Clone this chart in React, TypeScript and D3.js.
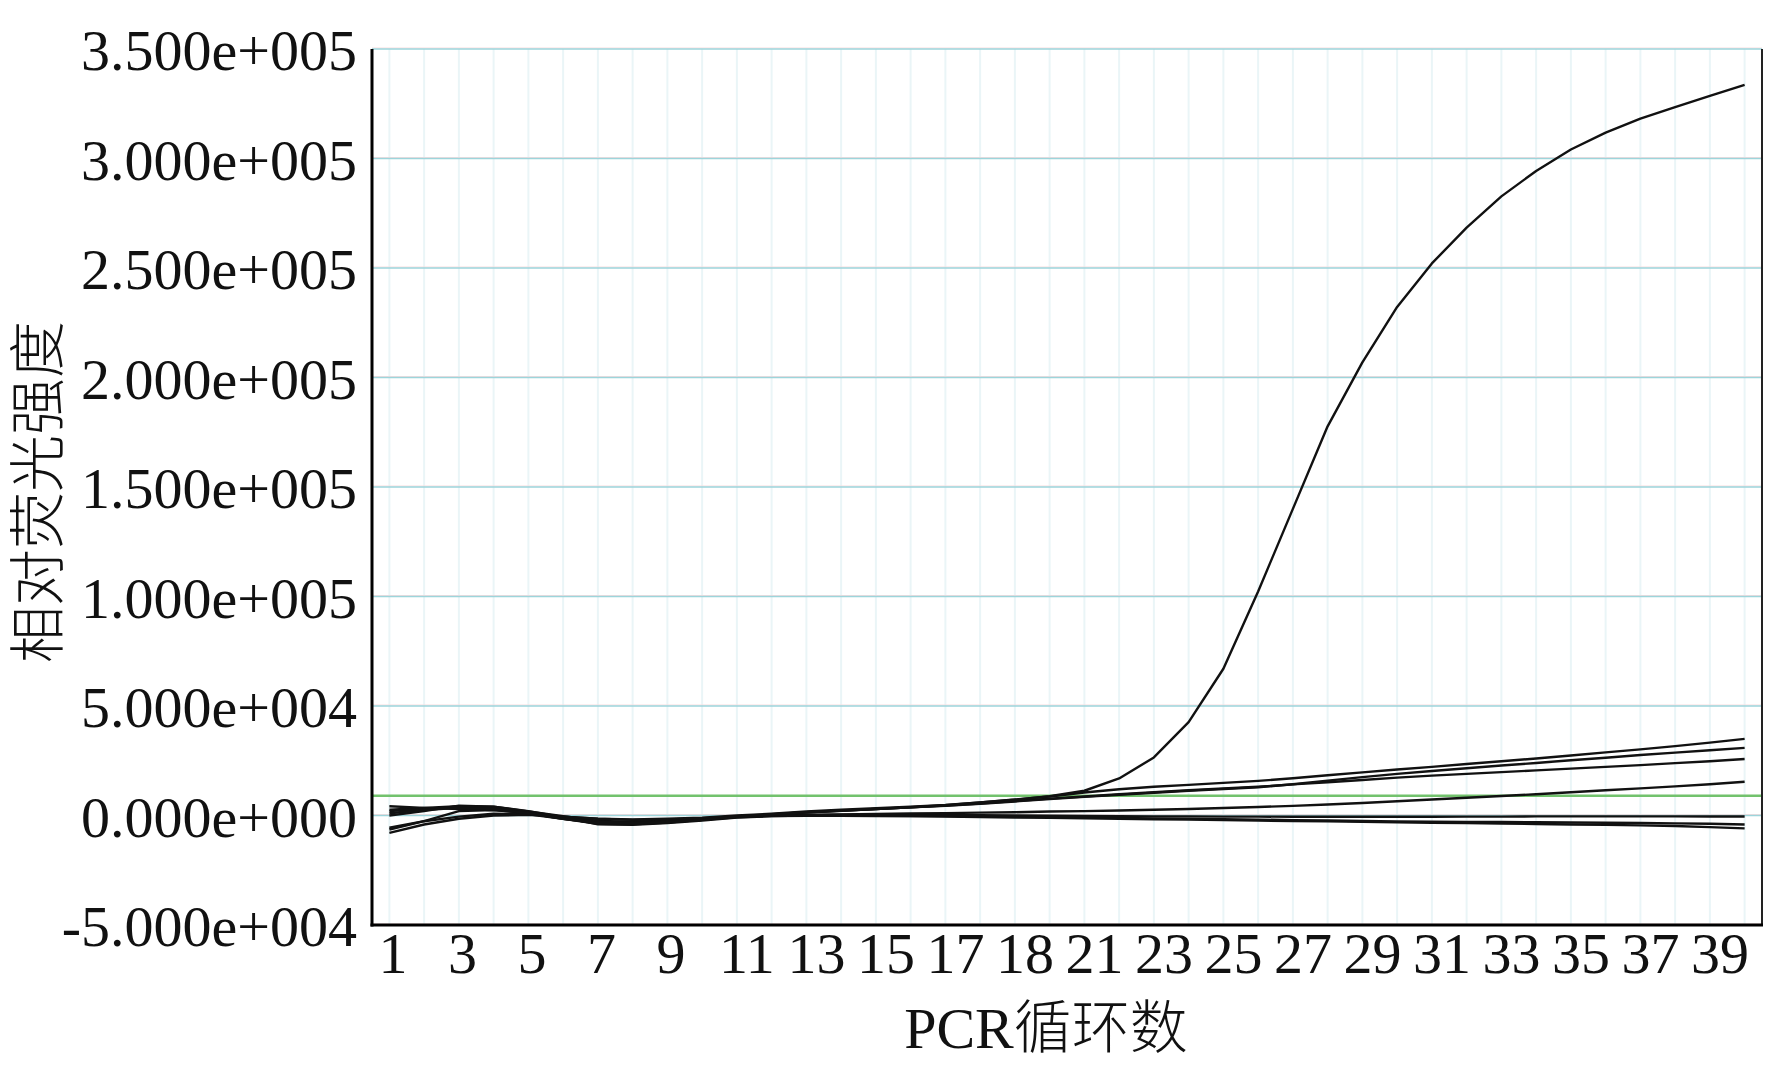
import React from "react";
import * as d3 from "d3";

// PCR cycle numbers
const cycles = [1, 2, 3, 4, 5, 6, 7, 8, 9, 10, 11, 12, 13, 14, 15, 16, 17, 18, 19, 20,
  21, 22, 23, 24, 25, 26, 27, 28, 29, 30, 31, 32, 33, 34, 35, 36, 37, 38, 39, 40];

// Relative fluorescence per well
const wellA = [1000, 2500, 3500, 3000, 1000, -1500, -3500, -3500, -3000, -2000, -500, 500, 1500, 2200, 3000, 3800, 4700, 6000, 7200, 8800,
  11300, 16900, 26500, 42600, 67000, 102300, 140000, 177700, 206900, 232200, 252100, 268400, 282700, 294300, 304100, 311800, 318200, 323500, 328600, 333600];
const wellB = [4200, 3500, 3000, 2500, 1200, -500, -1500, -1800, -1500, -1000, 0, 800, 1800, 2600, 3300, 4000, 4800, 6000, 7300, 8700,
  10500, 12000, 13100, 14000, 14900, 15800, 17000, 18400, 19700, 21000, 22200, 23500, 24800, 26000, 27400, 28800, 30200, 31700, 33300, 35000];
const wellC = [2000, 3000, 4000, 3500, 1500, -1000, -3000, -3200, -2500, -1500, -300, 600, 1500, 2300, 3000, 3700, 4400, 5300, 6400, 7500,
  8500, 9500, 10400, 11300, 12100, 12900, 14300, 15900, 17500, 19000, 20300, 21600, 22800, 24000, 25200, 26400, 27600, 28700, 29800, 30900];
const wellD = [-5600, -2600, -500, 800, 500, -1500, -3800, -4000, -3200, -2000, -500, 500, 1300, 2100, 2900, 3700, 4500, 5500, 6600, 7700,
  8700, 9700, 10600, 11500, 12300, 13100, 14200, 15200, 16200, 17300, 18200, 19000, 19800, 20600, 21400, 22200, 23000, 23900, 24800, 25800];
const wellE = [-7900, -4100, -1500, 0, 300, -500, -1500, -2000, -1800, -1200, -400, 0, 300, 500, 700, 900, 1100, 1300, 1500, 1800,
  2000, 2300, 2600, 3000, 3400, 3900, 4400, 5000, 5700, 6500, 7300, 8100, 8900, 9700, 10600, 11500, 12400, 13300, 14300, 15400];
const wellF = [0, 2000, 4500, 4000, 1800, -300, -2500, -2800, -2400, -1600, -600, 0, 300, 400, 400, 300, 200, 100, 0, -100,
  -200, -300, -400, -400, -500, -500, -600, -600, -600, -600, -600, -500, -500, -400, -400, -400, -400, -400, -450, -450];
const wellG = [-6400, -2600, 2000, 2500, 1000, -1500, -3500, -3800, -3000, -2000, -800, -200, 0, 0, -100, -200, -300, -400, -500, -700,
  -900, -1100, -1300, -1500, -1700, -1900, -2100, -2300, -2500, -2700, -2800, -2900, -3000, -3100, -3200, -3300, -3400, -3600, -3800, -4100];
const wellH = [2700, 3500, 4200, 4000, 2000, -800, -4000, -4200, -3500, -2300, -900, -300, -100, -100, -200, -300, -500, -700, -900, -1100,
  -1300, -1500, -1700, -1900, -2100, -2300, -2500, -2700, -2900, -3100, -3300, -3500, -3700, -3900, -4100, -4300, -4500, -4800, -5300, -5900];

const threshold = 9000;

const yTicks = [-50000, 0, 50000, 100000, 150000, 200000, 250000, 300000, 350000];
const yTickLabels = ["-5.000e+004", "0.000e+000", "5.000e+004", "1.000e+005", "1.500e+005",
  "2.000e+005", "2.500e+005", "3.000e+005", "3.500e+005"];
const xTickCycles = [1, 3, 5, 7, 9, 11, 13, 15, 17, 19, 21, 23, 25, 27, 29, 31, 33, 35, 37, 39];
const xTickLabels = ["1", "3", "5", "7", "9", "11", "13", "15", "17", "18", "21", "23", "25", "27", "29", "31", "33", "35", "37", "39"];

const xTitle = "PCR循环数";
const yTitle = "相对荧光强度";

export default function App() {
  const W = 1779, H = 1079;
  const left = 372, right = 1762, top = 49, bottom = 925;
  const x = d3.scaleLinear().domain([0.5, 40.5]).range([left, right]);
  const y = d3.scaleLinear().domain([-50000, 350000]).range([bottom, top]);
  const line = d3.line<number>().x((_, i) => x(cycles[i])).y((d) => y(d));
  const series = [wellH, wellG, wellF, wellE, wellD, wellC, wellB, wellA];
  const serif = "'Liberation Serif', 'Times New Roman', serif";
  const cjk = "'Noto Sans CJK SC', sans-serif";

  return (
    <svg width={W} height={H} style={{ position: "absolute", left: 0, top: 0, background: "#fff" }}>
      <rect x={0} y={0} width={W} height={H} fill="#fff" />
      {/* vertical grid */}
      {cycles.map((c) => (
        <line key={"vg" + c} x1={x(c)} x2={x(c)} y1={top} y2={bottom} stroke="#eaf5f7" strokeWidth={2} />
      ))}
      {/* horizontal grid */}
      {yTicks.map((t) => (
        <g key={"hg" + t}>
          <line x1={left} x2={right} y1={y(t) - 1} y2={y(t) - 1} stroke="#f8dcdf" strokeWidth={1} />
          <line x1={left} x2={right} y1={y(t)} y2={y(t)} stroke="#9dd5db" strokeWidth={1.4} />
        </g>
      ))}
      {/* threshold */}
      <line x1={left} x2={right} y1={y(threshold)} y2={y(threshold)} stroke="#72c26d" strokeWidth={2.6} />
      {/* curves */}
      {series.map((s, i) => (
        <path key={"s" + i} d={line(s) || ""} fill="none" stroke="#111" strokeWidth={2.4} strokeLinejoin="round" />
      ))}
      {/* frame */}
      <line x1={right} x2={right} y1={top} y2={bottom + 1} stroke="#222" strokeWidth={2} />
      <line x1={left} x2={left} y1={top} y2={bottom + 1.5} stroke="#000" strokeWidth={3} />
      <line x1={left - 1.5} x2={right + 1} y1={bottom} y2={bottom} stroke="#000" strokeWidth={3} />
      {/* y tick labels */}
      {yTicks.map((t, i) => (
        <text key={"yl" + t} x={357} y={y(t) + 21} textAnchor="end" fontFamily={serif} fontSize={58} fill="#111">
          {yTickLabels[i]}
        </text>
      ))}
      {/* x tick labels */}
      {xTickCycles.map((c, i) => (
        <text key={"xl" + c} x={x(c) + (xTickLabels[i].length === 1 ? 3.5 : 10)} y={973} textAnchor="middle"
          fontFamily={serif} fontSize={58} fill="#111">
          {xTickLabels[i]}
        </text>
      ))}
      {/* titles */}
      <text x={1046} y={1048} textAnchor="middle" fontSize={58} fill="#111">
        <tspan fontFamily={serif}>PCR</tspan>
        <tspan fontFamily={cjk} fontWeight={300}>{xTitle.slice(3)}</tspan>
      </text>
      <text transform="translate(58,492) rotate(-90)" textAnchor="middle" fontFamily={cjk} fontWeight={300}
        fontSize={57} fill="#111">
        {yTitle}
      </text>
    </svg>
  );
}
